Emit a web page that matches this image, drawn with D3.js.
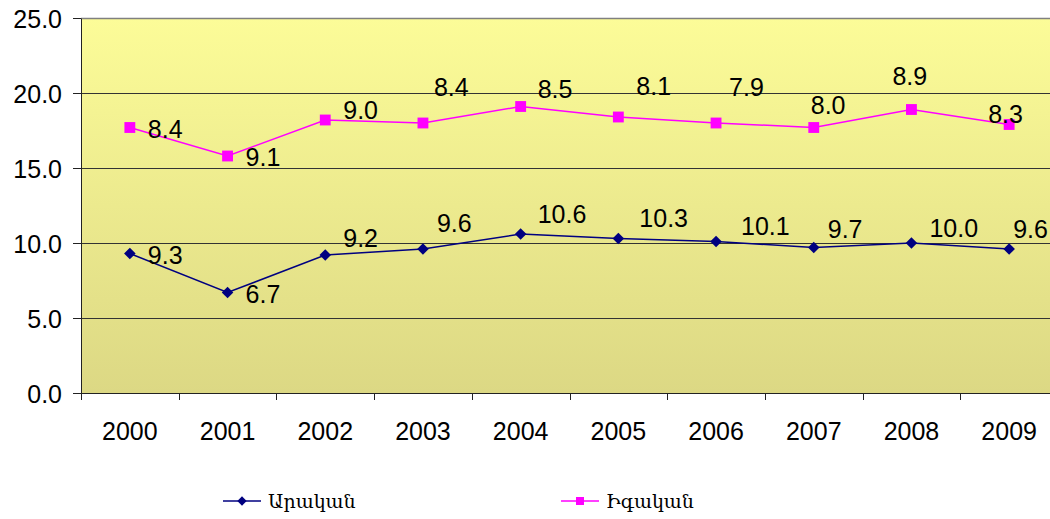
<!DOCTYPE html>
<html lang="hy">
	<head>
		<meta charset="utf-8">
		<title>Արական / Իգական</title>
		<script src="https://d3js.org/d3.v7.min.js"></script>
		<style type="text/css">
			body { margin: 0; background: #fff; }
			svg { display: block; }
		</style>
	</head>
	<body>
		<script type="text/javascript">

		  // data
		  var years = ["2000", "2001", "2002", "2003", "2004", "2005", "2006", "2007", "2008", "2009"];
		  var male = [9.3, 6.7, 9.2, 9.6, 10.6, 10.3, 10.1, 9.7, 10.0, 9.6];
		  var female = [8.4, 9.1, 9.0, 8.4, 8.5, 8.1, 7.9, 8.0, 8.9, 8.3];
		  var seriesNames = ["Արական", "Իգական"];
		  var yTicks = [0, 5, 10, 15, 20, 25];

		  // label nudges (pixels) as placed in the original
		  var maleLabelOff = [[18, 1], [18, 1], [18, -17], [14, -26], [17, -20], [21, -21], [25, -16], [14, -19], [18, -15], [4, -20]];
		  var femaleLabelOff = [[18, 1], [18, 1], [18, -10], [11, -36], [17, -18], [18, -31], [13, -36], [-3, -23], [-19, -34], [-21, -11]];

		  //Width and height
		  var W = 1050, H = 519;
		  var margin = {top: 18, left: 81};
		  var band = 97.7;
		  var plotW = band * years.length;
		  var plotH = 375;
		  var font = "Liberation Sans, Arial, sans-serif";

		  var svg = d3.select("body")
		              .append("svg")
		              .attr("width", W)
		              .attr("height", H);

		  var rows = years.map(function(y, i) { return {year: y, m: male[i], f: female[i]}; });
		  var stacked = d3.stack().keys(["m", "f"])(rows);

		  var x = d3.scaleBand().domain(years).range([0, plotW]);
		  var y = d3.scaleLinear().domain([0, 25]).range([plotH, 0]);

		  var defs = svg.append("defs");
		  var grad = defs.append("linearGradient").attr("id", "bg")
		                 .attr("x1", 0).attr("y1", 0).attr("x2", 0).attr("y2", 1);
		  grad.append("stop").attr("offset", "0%").attr("stop-color", "#fcfc98");
		  grad.append("stop").attr("offset", "100%").attr("stop-color", "#dcd884");

		  var g = svg.append("g")
		             .attr("transform", "translate(" + margin.left + "," + margin.top + ")");

		  g.append("rect")
		   .attr("width", plotW).attr("height", plotH)
		   .attr("fill", "url(#bg)");

		  // gridlines
		  g.selectAll(".grid")
		   .data(yTicks.slice(1, -1))
		   .enter().append("line")
		   .attr("x1", 0).attr("x2", plotW)
		   .attr("y1", function(d) { return Math.round(y(d)) + 0.5; })
		   .attr("y2", function(d) { return Math.round(y(d)) + 0.5; })
		   .attr("stroke", "#333").attr("stroke-width", 1);

		  // top border
		  g.append("line").attr("x1", 0).attr("x2", plotW).attr("y1", 0.5).attr("y2", 0.5)
		   .attr("stroke", "#808080").attr("stroke-width", 1.5);

		  // y axis
		  var yAxis = d3.axisLeft(y).tickValues(yTicks).tickFormat(d3.format(".1f")).tickSize(8).tickSizeOuter(0);
		  var yG = g.append("g").call(yAxis);
		  yG.select(".domain").attr("stroke", "#222");
		  yG.selectAll(".tick line").attr("stroke", "#222");
		  yG.selectAll("text").attr("font-family", font)
		    .attr("font-size", "25px").attr("fill", "#000").attr("x", -19).attr("dy", "0.36em");

		  // x axis
		  var xAxis = d3.axisBottom(x).tickSize(0).tickSizeOuter(0);
		  var xG = g.append("g").attr("transform", "translate(0," + plotH + ")").call(xAxis);
		  xG.select(".domain").attr("stroke", "#222");
		  xG.selectAll("text").attr("font-family", font)
		    .attr("font-size", "25px").attr("fill", "#000").attr("y", 47).attr("dy", "0");
		  xG.selectAll(".bt")
		    .data(years.concat(["end"]))
		    .enter().append("line")
		    .attr("x1", function(d, i) { return Math.round(i * x.step()) + 0.5; })
		    .attr("x2", function(d, i) { return Math.round(i * x.step()) + 0.5; })
		    .attr("y1", 0).attr("y2", 7)
		    .attr("stroke", "#222");

		  var cx = function(d) { return x(d.data.year) + x.bandwidth() / 2; };
		  var colors = ["#000080", "#ff00ff"];
		  var offs = [maleLabelOff, femaleLabelOff];
		  var vals = [male, female];

		  var line = d3.line().x(cx).y(function(d) { return y(d[1]); });

		  stacked.forEach(function(s, k) {
		    g.append("path").datum(s)
		     .attr("d", line)
		     .attr("fill", "none")
		     .attr("stroke", colors[k])
		     .attr("stroke-width", 1.5);

		    g.selectAll(".mk" + k)
		     .data(s)
		     .enter().append("path")
		     .attr("transform", function(d) { return "translate(" + cx(d) + "," + y(d[1]) + ")"; })
		     .attr("d", k === 0 ? d3.symbol(d3.symbolDiamond2, 85)() : d3.symbol(d3.symbolSquare2, 150)())
		     .attr("fill", colors[k]);

		    g.selectAll(".lb" + k)
		     .data(s)
		     .enter().append("text")
		     .attr("x", function(d, i) { return cx(d) + offs[k][i][0]; })
		     .attr("y", function(d, i) { return y(d[1]) + offs[k][i][1]; })
		     .attr("dy", "0.36em")
		     .attr("font-family", font)
		     .attr("font-size", "25px")
		     .attr("fill", "#000")
		     .text(function(d, i) { return d3.format(".1f")(vals[k][i]); });
		  });

		  // legend
		  var legendX = [223, 561];
		  var lg = svg.selectAll(".legend")
		              .data(seriesNames)
		              .enter().append("g")
		              .attr("transform", function(d, i) { return "translate(" + legendX[i] + ",501)"; });
		  lg.append("line").attr("x1", 0).attr("x2", 38).attr("y1", 0).attr("y2", 0)
		    .attr("stroke", function(d, i) { return colors[i]; }).attr("stroke-width", 1.5);
		  lg.append("path")
		    .attr("transform", "translate(19,0)")
		    .attr("d", function(d, i) { return i === 0 ? d3.symbol(d3.symbolDiamond2, 55)() : d3.symbol(d3.symbolSquare2, 82)(); })
		    .attr("fill", function(d, i) { return colors[i]; });
		  lg.append("text")
		    .attr("x", 45).attr("y", 0).attr("dy", "0.36em")
		    .attr("font-family", "DejaVu Serif, serif")
		    .attr("font-size", "19px")
		    .attr("fill", "#000")
		    .text(function(d) { return d; });

		</script>
	</body>
</html>
